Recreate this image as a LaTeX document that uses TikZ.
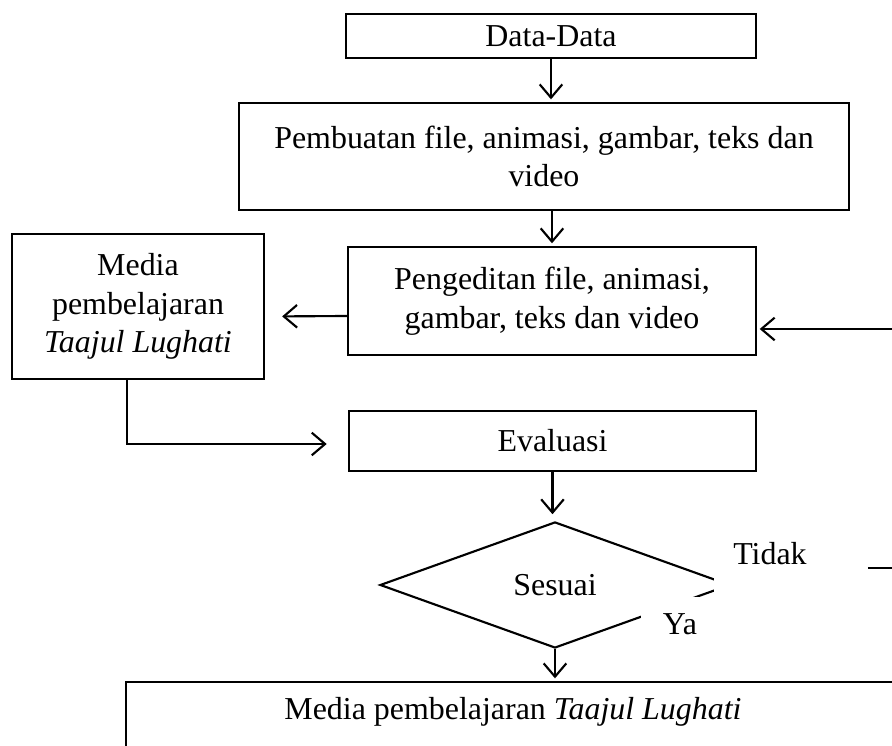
\documentclass[tikz,border=0pt,12pt]{standalone}
\usepackage{fontspec}
\setmainfont{Liberation Serif}
\usetikzlibrary{shapes.geometric, arrows.meta, calc}

\begin{document}
\begin{tikzpicture}[x=0.376pt, y=-0.376pt, line width=0.8pt,
  box/.style={draw, rectangle, align=center, inner sep=0pt},
  arr/.style={-{Straight Barb[length=5pt,width=8.5pt]}, shorten >=1pt}]
\useasboundingbox (0,0) rectangle (892,746);
\clip (0,0) rectangle (892,746);
% boxes
\node[box, minimum width=154.2pt, minimum height=16.5pt] (data) at (551,36) {Data-Data};
\node[box, minimum width=229.4pt, minimum height=40.2pt] (pembuatan) at (544,156.5)
     {Pembuatan file, animasi, gambar, teks dan\\ video};
\node[box, minimum width=153.4pt, minimum height=40.6pt] (edit) at (552,301)
     {Pengeditan file, animasi,\\ gambar, teks dan video};
\node[box, minimum width=94.8pt, minimum height=54.5pt] (media) at (138,306.5)
     {Media\\ pembelajaran\\ \textit{Taajul Lughati}};
\node[box, minimum width=153pt, minimum height=22.6pt] (eval) at (552.5,441) {Evaluasi};
\node[draw, diamond, aspect=2.78, minimum width=131.6pt, minimum height=47.4pt,
      inner sep=0pt] (sesuai) at (555,585) {Sesuai};
\node[box, anchor=north, minimum width=291pt, text height=14pt, text depth=20pt]
     (final) at (513,681) {Media pembelajaran \textit{Taajul Lughati}};
% labels on the decision
\fill[white] (714,536) rectangle (868,600);
\fill[white] (641,597) rectangle (712,650);
\node (tidak) at (770,554) {Tidak};
\node (ya) at (680,624) {Ya};
\coordinate (tdk) at (868,568);
% connectors
\draw[arr] (data.south) -- (data.south |- pembuatan.north);
\draw[arr] (edit.north |- pembuatan.south) -- (edit.north);
\draw[arr, shorten >=6.4pt] ($(edit.west)+(0,15)$) -- ($(media.east)+(0,10)$);
\draw[arr, shorten >=8pt] ($(media.south)+(-11,0)$) |- ($(eval.west)+(0,3)$);
\draw[arr, shorten >=2.5pt] (eval.south) -- (eval.south |- sesuai.north);
\draw[arr] (sesuai.south) -- (sesuai.south |- final.north);
\draw[arr] (tdk) -- ++(60,0) |- ($(edit.east)+(0,28)$);
\end{tikzpicture}
\end{document}
